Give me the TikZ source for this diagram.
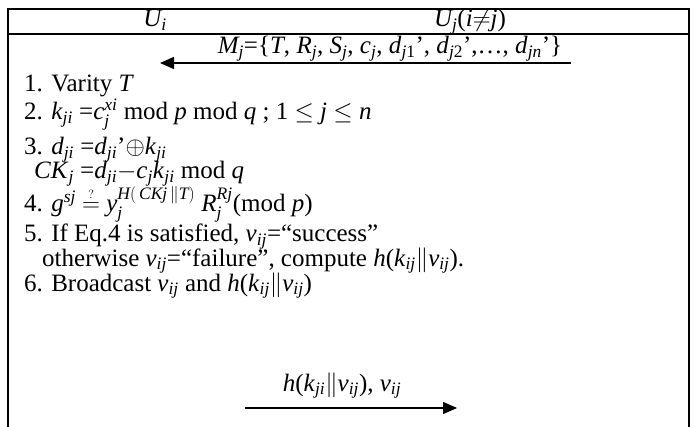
\documentclass[tikz,border=0pt]{standalone}
\usepackage{amsmath}
\usepackage{fontspec}
\setmainfont{Liberation Serif}
\usetikzlibrary{arrows.meta}
\newcommand\mi[1]{\textit{#1}}
\begin{document}
\begin{tikzpicture}[x=1pt,y=1pt,
  frame/.style={line width=1.6pt, line cap=rect},
  msg/.style={line width=1.3pt, -{Triangle[length=14pt,width=12pt]}},
  txt/.style={anchor=base west, inner sep=0pt, font=\fontsize{25}{28}\selectfont},
  ctxt/.style={anchor=base, inner sep=0pt, font=\fontsize{25}{28}\selectfont}]
\useasboundingbox (0,0) rectangle (695,-427);
% frame
\coordinate (tl) at (8,-9);
\coordinate (tr) at (689,-9);
\coordinate (bl) at (8,-427);
\coordinate (br) at (689,-427);
\coordinate (ml) at (8,-34);
\coordinate (mr) at (689,-34);
\draw[frame] (bl) -- (tl) -- (tr) -- (br);
\draw[frame] (ml) -- (mr);
% header
\node[ctxt] (ui) at (155,-27) {$\mi{U}_{\mi{i}}$};
\node[ctxt] (uj) at (470,-27) {$\mi{U}_{\mi{j}}$(\mi{i}$\neq$\mi{j})};
% message 1
\node[ctxt] (m1) at (390,-54) {$\mi{M}_{\mi{j}}$=\{\mi{T}, \mi{R}$_{\mi{j}}$, \mi{S}$_{\mi{j}}$, \mi{c}$_{\mi{j}}$, \mi{d}$_{\mi{j}\textrm{1}}$’, \mi{d}$_{\mi{j}\textrm{2}}$’,…, \mi{d}$_{\mi{jn}}$’\}};
\coordinate (a1s) at (571,-63);
\coordinate (a1e) at (160,-63);
\draw[msg] (a1s) -- (a1e);
% steps
\node[txt] (s1) at (24,-92) {1. Varity \mi{T}};
\node[txt] (s2) at (24,-120) {2. \mi{k}$_{\mi{ji}}$ =\mi{c}$_{\mi{j}}^{\mi{xi}}$ mod \mi{p} mod \mi{q} ; 1 $\le$ \mi{j} $\le$ \mi{n}};
\node[txt] (s3) at (24,-155) {3. \mi{d}$_{\mi{ji}}$ =\mi{d}$_{\mi{ji}}$’$\oplus$\mi{k}$_{\mi{ji}}$};
\node[txt] (s3b) at (34,-179) {\mi{CK}$_{\mi{j}}$ =\mi{d}$_{\mi{ji}}$$-$\mi{c}$_{\mi{j}}$\mi{k}$_{\mi{ji}}$ mod \mi{q}};
\node[txt] (s4) at (24,-212) {4. \mi{g}$^{\mi{sj}}$ $\stackrel{\scriptscriptstyle ?}{=}$ \mi{y}$_{\mi{j}}^{\mi{H}(\,\mi{CKj}\,\|\mi{T})}$ \mi{R}$_{\mi{j}}^{\mi{Rj}}$(mod \mi{p})};
\node[txt] (s5) at (24,-242) {5. If Eq.4 is satisfied, \mi{v}$_{\mi{ij}}$=“success”};
\node[txt] (s5b) at (42,-266) {otherwise \mi{v}$_{\mi{ij}}$=“failure”, compute \mi{h}(\mi{k}$_{\mi{ij}}$$\|$\mi{v}$_{\mi{ij}}$).};
\node[txt] (s6) at (24,-291) {6. Broadcast \mi{v}$_{\mi{ij}}$ and \mi{h}(\mi{k}$_{\mi{ij}}$$\|$\mi{v}$_{\mi{ij}}$)};
% message 2
\node[ctxt] (m2) at (342,-391) {\mi{h}(\mi{k}$_{\mi{ji}}$$\|$\mi{v}$_{\mi{ij}}$), \mi{v}$_{\mi{ij}}$};
\coordinate (a2s) at (245,-408);
\coordinate (a2e) at (457,-408);
\draw[msg] (a2s) -- (a2e);
\end{tikzpicture}
\end{document}
